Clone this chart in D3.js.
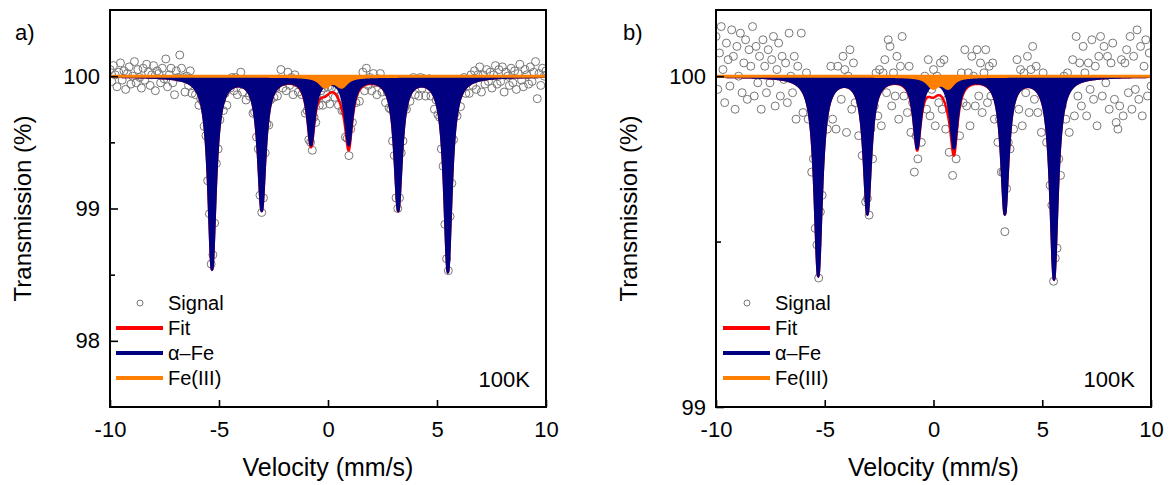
<!DOCTYPE html>
<html>
<head>
<meta charset="utf-8">
<script src="https://cdn.jsdelivr.net/npm/d3@7"></script>
<style>
  html, body { margin: 0; padding: 0; background: #fff; }
  svg { display: block; font-family: Arial, "Liberation Sans", sans-serif; }
</style>
</head>
<body>
<svg id="chart" width="1171" height="485"></svg>
<script>
// spectrometer channels: 251 evenly spaced velocities, -10 .. +10 mm/s
const channels = d3.range(251).map(i => -10 + i * 0.08)

const signalA = [
  100.05, 99.96, 100.08, 100.01, 99.92, 100.03, 100.10, 99.97, 100.04, 99.90,
  100.02, 100.07, 99.94, 100.00, 100.11, 99.95, 100.05, 99.99, 99.91, 100.06,
  99.97, 100.09, 100.03, 99.93, 100.01, 100.08, 99.89, 100.04, 100.02, 99.95,
  100.06, 99.98, 100.13, 99.92, 100.01, 100.06, 99.95, 99.86, 100.04, 99.99,
  100.16, 100.06, 99.99, 99.88, 100.00, 99.93, 100.04, 99.87, 99.95, 99.86,
  99.93, 99.78, 99.83, 99.81, 99.62, 99.55, 99.21, 98.96, 98.58, 98.65,
  98.89, 99.34, 99.45, 99.67, 99.82, 99.74, 99.87, 99.78, 99.94, 99.91,
  99.99, 99.89, 99.99, 99.86, 99.95, 100.03, 99.88, 99.95, 99.82, 99.95,
  99.85, 99.89, 99.72, 99.73, 99.54, 99.45, 99.10, 98.97, 99.08, 99.42,
  99.64, 99.63, 99.82, 99.93, 99.84, 99.91, 99.85, 99.98, 100.05, 99.91,
  99.96, 99.89, 100.03, 99.93, 99.99, 99.86, 100.01, 99.95, 99.88, 99.94,
  99.86, 99.90, 99.72, 99.74, 99.52, 99.50, 99.44, 99.69, 99.65, 99.83,
  99.78, 99.89, 99.78, 99.91, 99.83, 99.92, 99.79, 99.91, 99.96, 99.84,
  99.90, 99.78, 99.85, 99.74, 99.74, 99.54, 99.53, 99.40, 99.60, 99.65,
  99.86, 99.80, 99.94, 99.81, 99.94, 100.03, 99.89, 100.06, 99.93, 99.99,
  99.89, 100.02, 99.95, 99.86, 99.98, 100.02, 99.88, 99.96, 99.80, 99.88,
  99.76, 99.75, 99.51, 99.40, 99.08, 99.00, 99.08, 99.42, 99.51, 99.76,
  99.75, 99.90, 99.81, 99.93, 99.99, 99.86, 99.94, 99.85, 99.99, 99.91,
  99.98, 99.85, 99.94, 99.98, 99.85, 99.93, 99.75, 99.82, 99.71, 99.69,
  99.45, 99.32, 98.88, 98.62, 98.53, 98.94, 99.19, 99.52, 99.72, 99.70,
  99.86, 99.77, 99.91, 99.99, 99.87, 99.95, 99.87, 100.01, 99.93, 100.04,
  99.90, 100.01, 100.07, 99.88, 100.01, 99.94, 100.05, 99.96, 100.03, 99.91,
  100.01, 100.08, 99.94, 100.05, 99.96, 100.07, 99.88, 100.03, 100.00, 99.93,
  100.06, 99.95, 100.04, 99.90, 100.02, 100.09, 99.97, 99.92, 100.05, 100.01,
  99.94, 100.07, 99.96, 100.03, 100.11, 99.83, 100.02, 99.93, 100.06, 100.00,
  100.04
]
const signalB = [
  100.12, 99.96, 100.07, 100.15, 100.02, 99.92, 100.10, 100.05, 99.97, 100.14,
  100.06, 99.90, 100.09, 100.00, 100.13, 99.95, 100.04, 100.11, 99.93, 100.08,
  100.03, 100.15, 99.94, 100.09, 99.98, 100.06, 99.90, 100.11, 100.03, 99.95,
  100.08, 99.98, 100.05, 100.12, 99.91, 100.02, 100.10, 99.94, 100.06, 99.99,
  100.04, 99.92, 100.13, 100.00, 99.95, 100.06, 99.87, 100.03, 99.98, 100.13,
  99.89, 99.98, 100.01, 99.87, 99.93, 99.71, 99.75, 99.54, 99.49, 99.39,
  99.59, 99.64, 99.88, 99.99, 99.84, 99.94, 100.03, 99.87, 99.99, 99.84,
  100.03, 99.98, 99.93, 100.06, 100.02, 99.83, 100.00, 100.08, 99.90, 100.04,
  99.92, 99.99, 99.82, 99.92, 99.76, 99.87, 99.62, 99.63, 99.58, 99.84,
  99.75, 99.91, 100.01, 99.88, 100.02, 99.85, 100.01, 100.05, 99.95, 100.11,
  100.09, 99.91, 100.01, 99.94, 100.06, 99.87, 100.03, 100.12, 99.94, 99.98,
  99.89, 100.03, 99.83, 99.92, 99.71, 99.82, 99.75, 99.92, 99.80, 99.96,
  100.00, 99.90, 100.05, 99.88, 99.96, 100.02, 99.85, 100.00, 99.92, 100.04,
  99.90, 100.05, 99.84, 99.93, 99.77, 99.90, 99.70, 99.85, 99.75, 99.92,
  99.82, 100.01, 99.92, 100.08, 99.91, 100.01, 99.85, 100.06, 100.00, 99.91,
  100.08, 99.94, 100.04, 99.89, 100.01, 100.08, 99.92, 100.03, 99.94, 100.04,
  99.87, 99.95, 99.80, 99.87, 99.71, 99.71, 99.53, 99.66, 99.80, 99.78,
  99.96, 99.84, 99.96, 100.05, 99.90, 100.02, 99.85, 100.01, 99.95, 100.06,
  99.89, 100.02, 100.09, 99.93, 100.03, 99.89, 99.97, 99.83, 100.01, 99.93,
  99.80, 99.87, 99.67, 99.61, 99.38, 99.45, 99.48, 99.75, 99.70, 99.91,
  100.00, 99.87, 100.01, 99.83, 99.99, 100.05, 99.88, 100.12, 99.94, 100.04,
  99.91, 100.09, 100.01, 99.88, 100.04, 99.96, 100.11, 99.93, 100.03, 99.85,
  100.06, 100.12, 99.94, 100.09, 99.98, 100.06, 99.90, 100.04, 100.10, 99.93,
  99.86, 99.84, 99.91, 100.05, 99.88, 100.04, 100.08, 99.95, 100.12, 99.90,
  100.06, 99.96, 100.14, 99.93, 100.09, 99.88, 100.03, 100.11, 99.94, 100.07,
  99.97
]

// fitted alpha-Fe sextet: line positions (mm/s) and depths (%)
const sextetPosA = [-5.32, -3.04, -0.78, 0.95, 3.22, 5.50]
const sextetDepthA = [1.45, 1.0, 0.50, 0.50, 1.0, 1.47]
const sextetPosB = [-5.30, -3.04, -0.75, 0.94, 3.28, 5.54]
const sextetDepthB = [0.60, 0.41, 0.21, 0.21, 0.41, 0.61]
const sextetHwhm = 0.2

// fitted Fe(III) doublet
const doubletPosA = [-0.14, 0.63]
const doubletDepthA = [0.074, 0.074]
const doubletPosB = [-0.02, 0.68]
const doubletDepthB = [0.032, 0.032]
const doubletHwhm = 0.3

const velocityTicks = [-10, -5, 0, 5, 10]
const yTicksA = [98, 99, 100]
const yMinorA = [98.5, 99.5]
const yTicksB = [99, 100]
const yMinorB = [99.5]
const legendLabels = ['Signal', 'Fit', 'α–Fe', 'Fe(III)']
const legendColors = ['#777', '#ff0000', '#000080', '#ff8000']

const svg = d3.select('#chart')

const lorentz = (v, pos, depth, w) => d3.sum(pos, (c, k) => depth[k] / (1 + ((v - c) / w) ** 2))

function drawPanel(p) {
	const x = d3.scaleLinear().domain([-10, 10]).range([p.left, p.right])
	const y = d3.scaleLinear().domain(p.yDomain).range([p.bottom, p.top])

	svg.append('clipPath').attr('id', 'clip-' + p.name)
		.append('rect')
		.attr('x', p.left).attr('y', p.top)
		.attr('width', p.right - p.left).attr('height', p.bottom - p.top)

	const plot = svg.append('g').attr('clip-path', `url(#clip-${p.name})`)

	plot.selectAll('circle')
		.data(p.signal)
		.join('circle')
		.attr('cx', (d, i) => x(channels[i]))
		.attr('cy', d => y(d))
		.attr('r', 4)
		.attr('fill', 'none')
		.attr('stroke', '#777')
		.attr('stroke-width', 1)

	const fine = d3.range(-10, 10.0001, 0.005)
	const sext = v => lorentz(v, p.sextetPos, p.sextetDepth, sextetHwhm)
	const doub = v => lorentz(v, p.doubletPos, p.doubletDepth, doubletHwhm)

	// total fit (red) sits underneath the components
	plot.append('path')
		.datum(fine)
		.attr('fill', 'none')
		.attr('stroke', '#ff0000')
		.attr('stroke-width', 2.5)
		.attr('d', d3.line().x(v => x(v)).y(v => y(100 - sext(v) - doub(v))))

	plot.append('path')
		.datum(fine)
		.attr('fill', '#000080')
		.attr('stroke', '#000080')
		.attr('stroke-width', 2.5)
		.attr('d', d3.area().x(v => x(v)).y0(y(100)).y1(v => y(100 - sext(v))))

	plot.append('path')
		.datum(fine)
		.attr('fill', '#ff8000')
		.attr('stroke', '#ff8000')
		.attr('stroke-width', 3)
		.attr('d', d3.area().x(v => x(v)).y0(y(100)).y1(v => y(100 - doub(v))))

	// axes, ticks pointing inwards
	const ax = svg.append('g')
	ax.append('g')
		.attr('transform', `translate(0,${p.bottom})`)
		.call(d3.axisBottom(x).tickValues(velocityTicks).tickSize(-7).tickPadding(14).tickFormat(d => String(d)))
	ax.append('g')
		.attr('transform', `translate(${p.left},0)`)
		.call(d3.axisLeft(y).tickValues(p.yTicks).tickSize(-8).tickPadding(10).tickFormat(d => String(d)))
	ax.append('g')
		.attr('transform', `translate(${p.left},0)`)
		.call(d3.axisLeft(y).tickValues(p.yMinor).tickSize(-5).tickFormat(''))
	ax.selectAll('.domain').remove()
	ax.selectAll('.tick line').attr('stroke', '#000').attr('stroke-width', 1.6)
	ax.selectAll(':scope > g')
		.attr('font-size', 22)
		.attr('font-family', 'Arial, "Liberation Sans", sans-serif')
	ax.selectAll('.tick text').attr('fill', '#000')

	svg.append('rect')
		.attr('x', p.left).attr('y', p.top)
		.attr('width', p.right - p.left).attr('height', p.bottom - p.top)
		.attr('fill', 'none').attr('stroke', '#000').attr('stroke-width', 2)

	// titles
	svg.append('text')
		.attr('x', (p.left + p.right) / 2).attr('y', 476)
		.attr('text-anchor', 'middle').attr('font-size', 25)
		.text('Velocity (mm/s)')
	svg.append('text')
		.attr('transform', `translate(${p.left - 87},${(p.top + p.bottom) / 2}) rotate(-90)`)
		.attr('dy', '0.35em')
		.attr('text-anchor', 'middle').attr('font-size', 24)
		.text('Transmission (%)')
	svg.append('text')
		.attr('x', p.tagX).attr('y', 40).attr('font-size', 22)
		.text(p.tag)
	svg.append('text')
		.attr('x', p.right - 16).attr('y', 387)
		.attr('text-anchor', 'end').attr('font-size', 22)
		.text('100K')

	// legend
	const leg = svg.append('g')
	legendLabels.forEach((label, k) => {
		const ly = 303 + k * 25
		if (k === 0) {
			leg.append('circle')
				.attr('cx', p.legendX + 24).attr('cy', ly).attr('r', 3)
				.attr('fill', 'none').attr('stroke', legendColors[k]).attr('stroke-width', 1)
		} else {
			leg.append('line')
				.attr('x1', p.legendX).attr('x2', p.legendX + 47)
				.attr('y1', ly).attr('y2', ly)
				.attr('stroke', legendColors[k]).attr('stroke-width', 4)
		}
		leg.append('text')
			.attr('x', p.legendX + 52).attr('y', ly).attr('dy', '0.36em')
			.attr('font-size', 20)
			.text(label)
	})
}

drawPanel({
	name: 'a', tag: 'a)', tagX: 15,
	left: 110, right: 546, top: 10, bottom: 407,
	yDomain: [97.5, 100.5], yTicks: yTicksA, yMinor: yMinorA,
	signal: signalA,
	sextetPos: sextetPosA, sextetDepth: sextetDepthA,
	doubletPos: doubletPosA, doubletDepth: doubletDepthA,
	legendX: 116,
})

drawPanel({
	name: 'b', tag: 'b)', tagX: 623,
	left: 716, right: 1151, top: 10, bottom: 407,
	yDomain: [99, 100.2], yTicks: yTicksB, yMinor: yMinorB,
	signal: signalB,
	sextetPos: sextetPosB, sextetDepth: sextetDepthB,
	doubletPos: doubletPosB, doubletDepth: doubletDepthB,
	legendX: 723,
})
</script>
</body>
</html>
